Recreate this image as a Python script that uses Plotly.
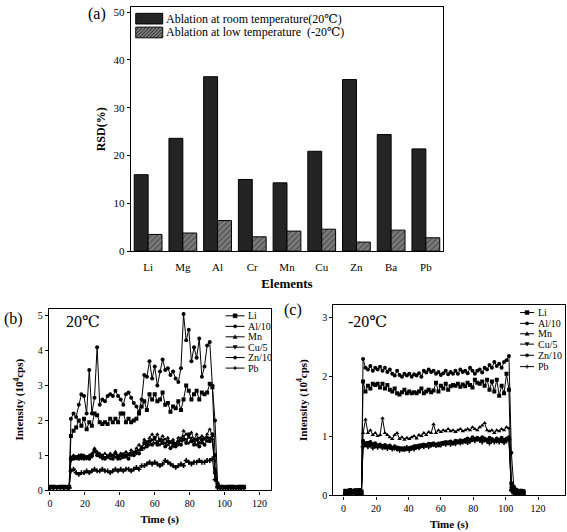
import plotly.graph_objects as go

# ---------- Panel (a) data ----------
ELEMENTS = ["Li", "Mg", "Al", "Cr", "Mn", "Cu", "Zn", "Ba", "Pb"]
RSD_ROOM = [16.0, 23.6, 36.5, 15.0, 14.3, 20.9, 35.9, 24.4, 21.4]
RSD_LOW = [3.5, 3.8, 6.4, 3.0, 4.2, 4.6, 1.9, 4.4, 2.8]
BAR_NAMES = ["Ablation at room temperature(20\u2103)", "Ablation at low temperature  (-20\u2103)"]

# ---------- Panel (b) data (20 C) ----------
B_TIME = [0, 2, 4, 6, 8, 10, 11,
          12, 13.5, 15, 16.5, 18, 19.5, 21, 22.5, 24, 25.5, 27, 28.5, 30, 31.5, 33, 34.5,
          36, 37.5, 39, 40.5, 42, 43.5, 45, 46.5, 48, 49.5, 51, 52.5, 54, 55.5, 57, 58.5,
          60, 61.5, 63, 64.5, 66, 67.5, 69, 70.5, 72, 73.5, 75, 76.5, 78, 79.5, 81, 82.5,
          84, 85.5, 87, 88.5, 90, 91.5, 93,
          94.5, 96, 97.5, 99, 100.5, 102, 103.5, 105, 106.5, 108, 109.5, 111]
B_LI = [0.1, 0.1, 0.09, 0.1, 0.1, 0.09, 0.1,
        1.55, 1.7, 1.8, 2.0, 1.85, 2.05, 1.75, 1.95, 1.85, 2.2, 2.15, 1.95, 1.9, 1.95, 1.9, 2.05,
        1.95, 2.05, 1.95, 2.2, 2.2, 1.95, 2.05, 1.95, 2.0, 2.05, 2.2, 2.4, 2.55, 2.3, 2.75, 2.6,
        2.75, 2.55, 2.6, 2.8, 2.45, 2.5, 2.25, 2.4, 2.35, 2.55, 2.3, 2.6, 3.0, 2.85, 2.6, 2.75,
        2.85, 2.6, 2.8, 2.75, 2.8, 3.05, 2.95,
        1.0, 0.15, 0.1, 0.1, 0.09, 0.1, 0.1, 0.1, 0.09, 0.1, 0.1, 0.1]
B_AL = [0.08, 0.09, 0.08, 0.08, 0.09, 0.08, 0.09,
        2.05, 2.2, 2.1, 2.45, 2.75, 2.7, 2.2, 3.45, 2.2, 2.65, 4.1, 2.45, 2.6, 2.55, 2.7, 2.75,
        2.7, 2.85, 2.7, 2.6, 2.45, 2.75, 2.8, 2.65, 2.5, 2.4, 2.25, 2.6, 3.3, 3.25, 3.7, 3.2,
        3.55, 3.0, 3.4, 3.75, 3.45, 3.5, 3.3, 3.4, 3.2, 3.1, 3.5, 5.05, 4.3, 4.6, 3.7, 4.1,
        3.8, 4.35, 3.25, 3.55, 4.15, 4.25, 3.0,
        2.0, 0.2, 0.08, 0.08, 0.09, 0.08, 0.08, 0.08, 0.08, 0.08, 0.08, 0.08]
B_MN = [0.07, 0.08, 0.07, 0.08, 0.07, 0.08, 0.07,
        0.95, 1.0, 0.95, 1.0, 0.95, 1.0, 0.95, 1.0, 1.05, 1.2, 1.1, 1.05, 1.0, 1.05, 0.95, 1.05,
        1.0, 1.1, 0.95, 1.05, 1.0, 1.1, 1.0, 1.15, 1.05, 1.2, 1.3, 1.15, 1.45, 1.3, 1.5, 1.6,
        1.45, 1.6, 1.4, 1.55, 1.45, 1.5, 1.35, 1.45, 1.3, 1.5, 1.4, 1.7, 1.6, 1.5, 1.65, 1.45,
        1.6, 1.35, 1.55, 1.45, 1.6, 1.75, 1.55,
        0.6, 0.12, 0.07, 0.08, 0.07, 0.07, 0.08, 0.07, 0.07, 0.08, 0.07, 0.07]
B_CU = [0.06, 0.06, 0.07, 0.06, 0.06, 0.07, 0.06,
        0.85, 0.95, 0.9, 0.95, 0.9, 0.95, 0.9, 0.95, 0.95, 1.1, 1.05, 0.95, 0.9, 0.95, 1.0, 0.9,
        1.0, 0.95, 1.0, 0.9, 1.05, 0.95, 1.05, 1.0, 1.1, 1.05, 1.15, 1.25, 1.2, 1.4, 1.3, 1.45,
        1.35, 1.4, 1.3, 1.45, 1.35, 1.3, 1.4, 1.25, 1.35, 1.3, 1.5, 1.55, 1.45, 1.35, 1.5, 1.4,
        1.3, 1.5, 1.35, 1.5, 1.4, 1.5, 1.45,
        0.5, 0.1, 0.06, 0.06, 0.06, 0.06, 0.06, 0.06, 0.06, 0.06, 0.06, 0.06]
B_ZN = [0.09, 0.08, 0.09, 0.09, 0.08, 0.09, 0.09,
        0.9, 0.9, 0.95, 0.9, 1.0, 0.9, 0.95, 0.9, 1.0, 1.15, 1.0, 1.0, 0.95, 0.9, 0.95, 1.0,
        0.9, 1.05, 0.9, 1.0, 0.95, 1.0, 0.9, 1.05, 1.0, 1.1, 1.05, 1.2, 1.35, 1.25, 1.4, 1.3,
        1.5, 1.3, 1.45, 1.35, 1.25, 1.4, 1.2, 1.35, 1.25, 1.4, 1.3, 1.45, 1.35, 1.6, 1.4, 1.3,
        1.45, 1.25, 1.45, 1.3, 1.5, 1.4, 1.6,
        0.5, 0.1, 0.09, 0.08, 0.09, 0.09, 0.08, 0.09, 0.09, 0.08, 0.09, 0.09]
B_PB = [0.05, 0.05, 0.06, 0.05, 0.05, 0.05, 0.06,
        0.55, 0.6, 0.5, 0.45, 0.5, 0.5, 0.55, 0.5, 0.55, 0.6, 0.55, 0.55, 0.6, 0.55, 0.55, 0.5,
        0.55, 0.6, 0.55, 0.6, 0.55, 0.6, 0.6, 0.55, 0.6, 0.65, 0.6, 0.7, 0.7, 0.75, 0.8, 0.75,
        0.8, 0.75, 0.7, 0.75, 0.85, 0.8, 0.75, 0.7, 0.65, 0.7, 0.75, 0.7, 0.85, 0.8, 0.75, 0.8,
        0.8, 0.85, 0.8, 0.8, 0.85, 0.85, 0.9,
        0.3, 0.07, 0.05, 0.05, 0.05, 0.05, 0.05, 0.05, 0.05, 0.05, 0.05, 0.05]

# ---------- Panel (c) data (-20 C) ----------
C_TIME = [1, 2.5, 4, 5.5, 7, 8.5, 10, 11,
          12, 13.5, 15, 16.5, 18, 19.5, 21, 22.5, 24, 25.5, 27, 28.5, 30, 31.5, 33, 34.5,
          36, 37.5, 39, 40.5, 42, 43.5, 45, 46.5, 48, 49.5, 51, 52.5, 54, 55.5, 57, 58.5,
          60, 61.5, 63, 64.5, 66, 67.5, 69, 70.5, 72, 73.5, 75, 76.5, 78, 79.5, 81, 82.5,
          84, 85.5, 87, 88.5, 90, 91.5, 93, 94.5, 96, 97.5, 99, 100.5, 102,
          103.5, 105, 106.5, 108, 109.5, 111]
C_LI = [0.08, 0.05, 0.09, 0.06, 0.08, 0.05, 0.09, 0.07,
        1.92, 1.75, 1.85, 1.8, 1.88, 1.86, 1.88, 1.82, 1.88, 1.8, 1.86, 1.78, 1.75, 1.8, 1.72, 1.7,
        1.74, 1.78, 1.72, 1.75, 1.72, 1.74, 1.72, 1.75, 1.8, 1.72, 1.75, 1.78, 1.74, 1.77, 1.9, 1.75,
        1.85, 1.8, 1.88, 1.78, 1.84, 1.86, 1.85, 1.88, 1.83, 1.87, 1.84, 1.9, 1.86, 1.82, 1.95, 1.9,
        1.88, 1.92, 1.85, 1.95, 1.78, 1.92, 1.75, 1.95, 1.68, 1.85, 1.72, 2.05, 1.78,
        0.2, 0.12, 0.09, 0.07, 0.08, 0.07]
C_AL = [0.04, 0.07, 0.03, 0.08, 0.05, 0.09, 0.04, 0.06,
        2.3, 2.15, 2.12, 2.18, 2.1, 2.15, 2.12, 2.17, 2.1, 2.15, 2.08, 2.12, 2.05, 2.02, 2.1, 2.03,
        2.0, 2.05, 2.02, 2.05, 2.0, 2.04, 2.02, 2.06, 2.0, 2.1, 2.07, 2.12, 2.08, 2.1, 2.05, 2.08,
        2.03, 2.06, 2.1, 2.04, 2.08, 2.05, 2.1, 2.05, 2.12, 2.08, 2.1, 2.06, 2.15, 2.1, 2.05, 2.1,
        2.12, 2.07, 2.15, 2.12, 2.2, 2.15, 2.25, 2.18, 2.22, 2.15, 2.25, 2.28, 2.35,
        0.72, 0.15, 0.1, 0.08, 0.08, 0.07]
C_MN = [0.06, 0.04, 0.07, 0.05, 0.06, 0.04, 0.07, 0.05,
        1.05, 1.28, 1.05, 1.1, 1.02, 1.05, 1.0, 1.02, 1.3, 1.05, 1.02, 0.98, 0.95, 1.02, 1.05, 0.95,
        0.98, 0.94, 0.97, 0.95, 0.98, 1.0, 0.96, 1.02, 1.0, 1.05, 1.02, 1.07, 1.05, 1.2, 1.05, 1.1,
        1.07, 1.1, 1.08, 1.12, 1.08, 1.1, 1.07, 1.1, 1.12, 1.08, 1.1, 1.12, 1.1, 1.15, 1.12, 1.1,
        1.15, 1.18, 1.22, 1.1, 1.08, 1.1, 1.05, 1.1, 1.08, 1.12, 1.1, 1.15, 1.13,
        0.15, 0.08, 0.06, 0.05, 0.06, 0.05]
C_CU = [0.03, 0.06, 0.04, 0.07, 0.03, 0.06, 0.04, 0.05,
        0.88, 0.85, 0.9, 0.84, 0.88, 0.82, 0.86, 0.83, 0.85, 0.8, 0.84, 0.8, 0.82, 0.78, 0.82, 0.78,
        0.8, 0.76, 0.8, 0.78, 0.82, 0.8, 0.84, 0.82, 0.86, 0.84, 0.86, 0.85, 0.88, 0.84, 0.86, 0.88,
        0.86, 0.9, 0.88, 0.9, 0.87, 0.9, 0.88, 0.92, 0.9, 0.93, 0.9, 0.92, 0.95, 0.93, 0.96, 0.94,
        0.92, 0.95, 0.93, 0.9, 0.95, 0.92, 0.94, 0.9, 0.93, 0.91, 0.95, 0.92, 0.95,
        0.12, 0.06, 0.04, 0.05, 0.04, 0.04]
C_ZN = [0.05, 0.08, 0.04, 0.06, 0.09, 0.05, 0.07, 0.04,
        0.92, 0.88, 0.85, 0.9, 0.86, 0.88, 0.84, 0.86, 0.82, 0.85, 0.82, 0.84, 0.8, 0.83, 0.79, 0.8,
        0.77, 0.8, 0.78, 0.8, 0.79, 0.83, 0.81, 0.84, 0.83, 0.86, 0.84, 0.87, 0.85, 0.88, 0.86, 0.84,
        0.88, 0.87, 0.9, 0.88, 0.91, 0.88, 0.92, 0.9, 0.93, 0.91, 0.94, 0.96, 0.93, 0.98, 0.95, 0.97,
        0.95, 0.98, 0.96, 0.94, 0.97, 0.95, 0.92, 0.96, 0.94, 0.97, 0.93, 0.96, 0.98,
        0.1, 0.05, 0.07, 0.04, 0.05, 0.04]
C_PB = [0.02, 0.04, 0.02, 0.03, 0.05, 0.02, 0.03, 0.02,
        0.82, 0.86, 0.82, 0.85, 0.8, 0.84, 0.81, 0.84, 0.8, 0.82, 0.79, 0.82, 0.78, 0.81, 0.78, 0.76,
        0.79, 0.77, 0.81, 0.76, 0.8, 0.78, 0.82, 0.8, 0.84, 0.82, 0.84, 0.82, 0.85, 0.86, 0.84, 0.87,
        0.85, 0.88, 0.86, 0.89, 0.86, 0.88, 0.87, 0.9, 0.88, 0.9, 0.92, 0.89, 0.91, 0.94, 0.92, 0.95,
        0.93, 0.9, 0.94, 0.92, 0.88, 0.93, 0.9, 0.94, 0.9, 0.93, 0.89, 0.92, 0.94,
        0.08, 0.03, 0.02, 0.03, 0.02, 0.02]

SERIES_NAMES = ["Li", "Al/10", "Mn", "Cu/5", "Zn/10", "Pb"]
SERIES_SYMBOLS = ["square", "circle", "triangle-up", "triangle-down", "circle", "cross"]

SERIF = "Liberation Serif, DejaVu Serif, Times New Roman, serif"
W, H = 567, 532
ROOM_COLOR = "#242424"
LOW_BG, LOW_FG = "#7c7c7c", "#262626"


def px_x(p):
    return p / W


def px_y(p):
    return 1 - p / H


fig = go.Figure()

# Panel (a) bars
fig.add_trace(go.Bar(
    x=ELEMENTS, y=RSD_ROOM, name=BAR_NAMES[0],
    marker=dict(color=ROOM_COLOR, line=dict(color="black", width=1)),
    xaxis="x", yaxis="y"))
fig.add_trace(go.Bar(
    x=ELEMENTS, y=RSD_LOW, name=BAR_NAMES[1],
    marker=dict(color=LOW_BG, line=dict(color="black", width=1),
                pattern=dict(shape="/", fgcolor=LOW_FG, bgcolor=LOW_BG, size=4, solidity=0.35)),
    xaxis="x", yaxis="y"))

b_series = [B_LI, B_AL, B_MN, B_CU, B_ZN, B_PB]
c_series = [C_LI, C_AL, C_MN, C_CU, C_ZN, C_PB]
for name, sym, vals in zip(SERIES_NAMES, SERIES_SYMBOLS, b_series):
    fig.add_trace(go.Scatter(
        x=B_TIME, y=vals, name=name, mode="lines+markers",
        line=dict(color="black", width=1),
        marker=dict(symbol=sym, size=4, color="black"),
        xaxis="x2", yaxis="y2"))
for name, sym, vals in zip(SERIES_NAMES, SERIES_SYMBOLS, c_series):
    fig.add_trace(go.Scatter(
        x=C_TIME, y=vals, name=name, mode="lines+markers",
        line=dict(color="black", width=1),
        marker=dict(symbol=sym, size=4, color="black"),
        xaxis="x3", yaxis="y3"))

axis_common = dict(showline=True, linecolor="black", linewidth=1.2, mirror=True,
                   showgrid=False, zeroline=False, ticks="outside", ticklen=3,
                   tickcolor="black", tickfont=dict(family=SERIF, size=11, color="black"))
small_ticks = {**axis_common, "tickfont": dict(family=SERIF, size=10, color="black")}

fig.update_layout(
    width=W, height=H, margin=dict(l=0, r=0, t=0, b=0),
    paper_bgcolor="white", plot_bgcolor="white",
    font=dict(family=SERIF, color="black"),
    barmode="group", bargap=0.2, bargroupgap=0, showlegend=False,
    xaxis=dict(domain=[px_x(130), px_x(443)], anchor="y", range=[-0.5, 8.5],
               ticklabelstandoff=6,
               title=dict(text="<b>Elements</b>", font=dict(size=13, family=SERIF), standoff=6),
               **{**axis_common, "ticks": ""}),
    yaxis=dict(domain=[px_y(253.5), px_y(6.5)], anchor="x", range=[0, 51],
               tickvals=[0, 10, 20, 30, 40, 50],
               title=dict(text="<b>RSD(%)</b>", font=dict(size=12, family=SERIF), standoff=5),
               **axis_common),
    xaxis2=dict(domain=[px_x(48), px_x(270)], anchor="y2", range=[-0.6, 126.3],
                tickvals=[0, 20, 40, 60, 80, 100, 120],
                title=dict(text="<b>Time (s)</b>", font=dict(size=11, family=SERIF), standoff=7),
                **small_ticks),
    yaxis2=dict(domain=[px_y(496), px_y(312)], anchor="x2", range=[-0.01, 5.2],
                tickvals=[0, 1, 2, 3, 4, 5],
                title=dict(text="<b>Intensity (10<sup>4</sup>cps)</b>", font=dict(size=11, family=SERIF), standoff=11),
                **small_ticks),
    xaxis3=dict(domain=[px_x(333), px_x(565)], anchor="y3", range=[-6.3, 136.6],
                tickvals=[0, 20, 40, 60, 80, 100, 120],
                title=dict(text="<b>Time (s)</b>", font=dict(size=11, family=SERIF), standoff=7),
                **small_ticks),
    yaxis3=dict(domain=[px_y(501), px_y(308)], anchor="x3", range=[0, 3.21],
                tickvals=[0, 1, 2, 3],
                title=dict(text="<b>Intensity (10<sup>4</sup>cps)</b>", font=dict(size=11, family=SERIF), standoff=12),
                **small_ticks),
)

shapes = []
annos = []

# ----- manual legend for panel (a) -----
SW_X0, SW_X1 = 135, 162
rows_a = [(12.5, 23.3), (26.5, 37.3)]
shapes.append(dict(type="rect", x0=px_x(SW_X0), x1=px_x(SW_X1), y0=px_y(rows_a[0][1]), y1=px_y(rows_a[0][0]),
                   fillcolor=ROOM_COLOR, line=dict(color="black", width=1)))
shapes.append(dict(type="rect", x0=px_x(SW_X0), x1=px_x(SW_X1), y0=px_y(rows_a[1][1]), y1=px_y(rows_a[1][0]),
                   fillcolor=LOW_BG, line=dict(color="black", width=1)))
top, bot = rows_a[1]
hh = bot - top
path = ""
k = SW_X0 - hh
while k < SW_X1:
    xa, ya = k, bot
    xb, yb = k + hh, top
    if xa < SW_X0:
        ya = bot - (SW_X0 - xa)
        xa = SW_X0
    if xb > SW_X1:
        yb = top + (xb - SW_X1)
        xb = SW_X1
    if xb > xa:
        path += "M{:.5f},{:.5f} L{:.5f},{:.5f} ".format(px_x(xa), px_y(ya), px_x(xb), px_y(yb))
    k += 3.5
shapes.append(dict(type="path", path=path.strip(), line=dict(color=LOW_FG, width=1)))
for (t0, t1), label in zip(rows_a, BAR_NAMES):
    annos.append(dict(text=label, x=px_x(163), y=px_y((t0 + t1) / 2), xanchor="left",
                      yanchor="middle", font=dict(family=SERIF, size=12, color="black")))


# ----- manual legends for panels (b) and (c) -----
def marker_shape(sym, cx, cy, r=2.0):
    if sym == "square":
        return dict(type="rect", x0=px_x(cx - r), x1=px_x(cx + r), y0=px_y(cy + r), y1=px_y(cy - r),
                    fillcolor="black", line=dict(color="black", width=0.5))
    if sym == "circle":
        return dict(type="circle", x0=px_x(cx - r * 0.8), x1=px_x(cx + r * 0.8),
                    y0=px_y(cy + r * 0.8), y1=px_y(cy - r * 0.8),
                    fillcolor="black", line=dict(color="black", width=0.5))
    if sym == "triangle-up":
        p = "M{},{} L{},{} L{},{} Z".format(px_x(cx - r), px_y(cy + r * 0.8), px_x(cx + r),
                                            px_y(cy + r * 0.8), px_x(cx), px_y(cy - r))
        return dict(type="path", path=p, fillcolor="black", line=dict(color="black", width=0.5))
    if sym == "triangle-down":
        p = "M{},{} L{},{} L{},{} Z".format(px_x(cx - r), px_y(cy - r * 0.8), px_x(cx + r),
                                            px_y(cy - r * 0.8), px_x(cx), px_y(cy + r))
        return dict(type="path", path=p, fillcolor="black", line=dict(color="black", width=0.5))
    p = "M{},{} L{},{} M{},{} L{},{}".format(px_x(cx - r), px_y(cy), px_x(cx + r), px_y(cy),
                                              px_x(cx), px_y(cy - r), px_x(cx), px_y(cy + r))
    return dict(type="path", path=p, line=dict(color="black", width=1))


def add_line_legend(x0, x1, xt, rows):
    for name, sym, yy in zip(SERIES_NAMES, SERIES_SYMBOLS, rows):
        shapes.append(dict(type="line", x0=px_x(x0), x1=px_x(x1), y0=px_y(yy), y1=px_y(yy),
                           line=dict(color="black", width=1)))
        shapes.append(marker_shape(sym, (x0 + x1) / 2, yy))
        annos.append(dict(text=name, x=px_x(xt), y=px_y(yy), xanchor="left", yanchor="middle",
                          font=dict(family=SERIF, size=10, color="black")))


add_line_legend(225, 244, 245.5, [319, 329.7, 340.3, 350.8, 361.3, 372])
add_line_legend(520, 534, 535.5, [315.7, 326.7, 337.2, 347.7, 359, 370.5])

for s in shapes:
    s.setdefault("xref", "paper")
    s.setdefault("yref", "paper")

# panel labels
for text, x, y in [("(a)", 96, 13), ("(b)", 13, 322), ("(c)", 293, 313),
                   ("20\u2103", 82, 325), ("-20\u2103", 367, 325)]:
    annos.append(dict(text=text, x=px_x(x), y=px_y(y), xanchor="center", yanchor="middle",
                      font=dict(family=SERIF, size=16, color="black")))

for a in annos:
    fig.add_annotation(xref="paper", yref="paper", showarrow=False, **a)
fig.update_layout(shapes=shapes)

fig.write_html("out.html", config={"displayModeBar": False},
               post_script="document.body.style.margin='0';")
